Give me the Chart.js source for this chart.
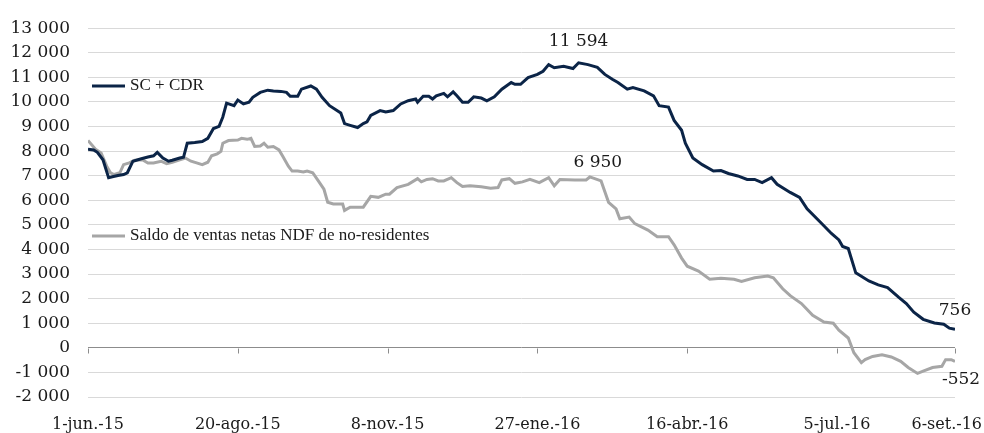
<!DOCTYPE html>
<html>
<head>
<meta charset="utf-8">
<script src="https://cdn.jsdelivr.net/npm/chart.js@4.4.1/dist/chart.umd.min.js"></script>
<style>
  html, body { margin: 0; padding: 0; background: #fff; }
  #wrap { width: 984px; height: 433px; position: relative; }
</style>
</head>
<body>
<div id="wrap"><canvas id="c"></canvas></div>
<script>
// x axis: days since 1-jun-15
const tickDays = [0, 80, 160, 240, 320, 400, 463];
const tickLabels = ['1-jun.-15', '20-ago.-15', '8-nov.-15', '27-ene.-16', '16-abr.-16', '5-jul.-16', '6-set.-16'];

const scName = 'SC + CDR';
const scDays = [0,3,5,8,11,13,16,19,21,24,28,32,35,37,40,43,45,49,51,53,57,61,64,67,70,72,74,78,80,83,86,88,92,96,99,103,106,108,112,114,119,122,125,129,135,137,140,144,147,149,151,156,159,163,167,171,175,176,179,182,184,186,190,192,195,197,200,203,206,210,213,217,221,226,228,231,235,240,243,246,249,254,259,262,267,272,276,280,283,288,291,297,302,305,310,313,317,319,323,328,334,338,342,347,352,356,360,365,368,375,380,384,391,397,401,403,406,410,417,422,427,433,437,441,446,452,457,460,463];
const scValues = [8080,8050,7950,7650,6920,6960,7010,7050,7120,7590,7680,7760,7810,7950,7720,7590,7630,7720,7750,8320,8350,8390,8520,8920,9010,9390,9950,9850,10080,9920,9990,10190,10390,10480,10450,10430,10390,10230,10230,10520,10650,10520,10190,9850,9550,9120,9050,8960,9120,9190,9450,9650,9590,9650,9920,10050,10120,9990,10230,10230,10120,10250,10350,10210,10410,10250,9990,9990,10210,10160,10050,10210,10520,10790,10720,10720,10990,11120,11250,11520,11390,11450,11360,11594,11520,11410,11120,10920,10790,10520,10590,10450,10250,9850,9790,9250,8850,8320,7720,7450,7190,7210,7090,6990,6850,6850,6720,6920,6650,6320,6120,5650,5120,4650,4390,4120,4040,3050,2720,2560,2450,2050,1800,1450,1160,1010,960,800,756];

const ndfName = 'Saldo de ventas netas NDF de no-residentes';
const ndfDays = [0,4,7,10,12,14,17,19,22,25,29,32,35,39,42,45,49,52,55,58,61,64,66,69,71,72,75,80,82,85,87,89,92,94,96,99,102,104,107,109,112,115,117,120,123,126,128,131,136,137,140,144,147,151,155,159,161,165,171,176,178,181,184,187,190,194,197,200,204,210,215,219,221,225,228,232,236,241,246,249,252,260,266,268,274,278,282,284,289,292,299,304,310,313,317,320,326,332,338,345,349,356,363,366,371,375,381,387,393,398,401,406,409,413,415,419,424,429,434,438,443,446,451,456,458,461,463];
const ndfValues = [8430,8080,7920,7390,7120,7050,7120,7450,7520,7630,7650,7520,7520,7590,7490,7550,7650,7720,7590,7520,7450,7550,7810,7890,7990,8320,8430,8450,8520,8480,8520,8190,8210,8320,8160,8190,8050,7790,7390,7190,7190,7150,7190,7120,6790,6450,5920,5850,5850,5590,5720,5720,5720,6160,6120,6250,6250,6520,6650,6880,6750,6850,6880,6790,6790,6920,6720,6560,6590,6550,6490,6520,6830,6880,6690,6750,6850,6720,6920,6590,6850,6830,6830,6950,6790,5920,5650,5250,5320,5050,4790,4520,4520,4190,3650,3320,3120,2790,2830,2790,2700,2850,2920,2850,2400,2120,1800,1320,1050,1000,720,400,-200,-600,-480,-350,-280,-370,-550,-800,-1040,-950,-800,-750,-480,-480,-552];

const yMin = -2000, yMax = 13000, yStep = 1000;

const navy = '#0b2447';
const grey = '#a6a6a6';
const numFont = '"DejaVu Serif", serif';
const textFont = '"Liberation Serif", serif';

function fmt(v) {
  const s = String(Math.abs(Math.round(v))).replace(/\B(?=(\d{3})+(?!\d))/g, ' ');
  return (v < 0 ? '-' : '') + s;
}

function toPoints(days, vals) {
  return days.map((d, i) => ({ x: d, y: vals[i] }));
}

// index of the highest value from a given day onwards
function peakFrom(days, vals, fromDay) {
  let best = -1;
  days.forEach((d, i) => {
    if (d >= fromDay && (best < 0 || vals[i] > vals[best])) best = i;
  });
  return best;
}

const overlay = {
  id: 'overlay',
  afterDatasetsDraw(chart) {
    const { ctx, chartArea: a, scales: { x, y } } = chart;
    ctx.save();

    // tick marks on the zero line
    const y0 = Math.round(y.getPixelForValue(0)) + 0.5;
    ctx.strokeStyle = '#8c8c8c';
    ctx.lineWidth = 1;
    tickDays.forEach(d => {
      const px = Math.round(x.getPixelForValue(d)) + 0.5;
      ctx.beginPath();
      ctx.moveTo(px, y0);
      ctx.lineTo(px, y0 + 5);
      ctx.stroke();
    });

    // category labels under the plot
    ctx.font = '16px ' + numFont;
    ctx.fillStyle = '#1a1a1a';
    ctx.textAlign = 'center';
    ctx.textBaseline = 'middle';
    tickDays.forEach((d, i) => {
      const w = ctx.measureText(tickLabels[i]).width;
      let px = x.getPixelForValue(d);
      px = Math.min(px, chart.width - w / 2 - 2);
      ctx.fillText(tickLabels[i], px, a.bottom + 28);
    });

    // legend entries inside the plot
    const entries = [[scName, navy, 86], [ndfName, grey, 236]];
    ctx.font = '17px ' + textFont;
    ctx.textAlign = 'left';
    entries.forEach(([name, col, ly]) => {
      ctx.strokeStyle = col;
      ctx.lineWidth = 3;
      ctx.beginPath();
      ctx.moveTo(a.left + 4, ly);
      ctx.lineTo(a.left + 37, ly);
      ctx.stroke();
      ctx.fillStyle = '#1a1a1a';
      ctx.fillText(name, a.left + 42, ly);
    });

    // value labels
    const scMeta = chart.getDatasetMeta(0).data;
    const ndfMeta = chart.getDatasetMeta(1).data;
    const scPeak = peakFrom(scDays, scValues, 0);
    const ndfPeak = peakFrom(ndfDays, ndfValues, 160);
    const notes = [
      [scMeta[scPeak], scValues[scPeak], 0, -21],
      [ndfMeta[ndfPeak], ndfValues[ndfPeak], 8, -14],
      [scMeta[scMeta.length - 1], scValues[scValues.length - 1], 0, -19],
      [ndfMeta[ndfMeta.length - 1], ndfValues[ndfValues.length - 1], 6, 18]
    ];
    ctx.font = '17px ' + numFont;
    ctx.textAlign = 'center';
    ctx.fillStyle = '#1a1a1a';
    notes.forEach(([pt, v, dx, dy]) => {
      const t = fmt(v);
      const w = ctx.measureText(t).width;
      const px = Math.min(pt.x + dx, chart.width - w / 2 - 1);
      ctx.fillText(t, px, pt.y + dy);
    });

    ctx.restore();
  }
};

new Chart(document.getElementById('c'), {
  type: 'line',
  data: {
    datasets: [
      {
        label: scName,
        data: toPoints(scDays, scValues),
        borderColor: navy,
        borderWidth: 3,
        pointRadius: 0,
        tension: 0
      },
      {
        label: ndfName,
        data: toPoints(ndfDays, ndfValues),
        borderColor: grey,
        borderWidth: 3,
        pointRadius: 0,
        tension: 0
      }
    ]
  },
  options: {
    responsive: true,
    maintainAspectRatio: false,
    animation: false,
    layout: { padding: { left: 0, right: 29, top: 22, bottom: 0 } },
    plugins: {
      legend: { display: false },
      tooltip: { enabled: false }
    },
    scales: {
      x: {
        type: 'linear',
        min: 0,
        max: 463,
        grid: { display: false },
        border: { display: false },
        ticks: { display: false },
        afterFit: s => { s.height = 36; }
      },
      y: {
        min: yMin,
        max: yMax,
        border: { display: false },
        grid: {
          drawTicks: false,
          color: c => (c.tick && c.tick.value === 0 ? '#8c8c8c' : '#d9d9d9'),
          lineWidth: 1
        },
        ticks: {
          stepSize: yStep,
          padding: 18,
          color: '#1a1a1a',
          font: { family: numFont, size: 17 },
          callback: v => fmt(v)
        },
        afterFit: s => { s.width = 88; }
      }
    }
  },
  plugins: [overlay]
});
</script>
</body>
</html>
